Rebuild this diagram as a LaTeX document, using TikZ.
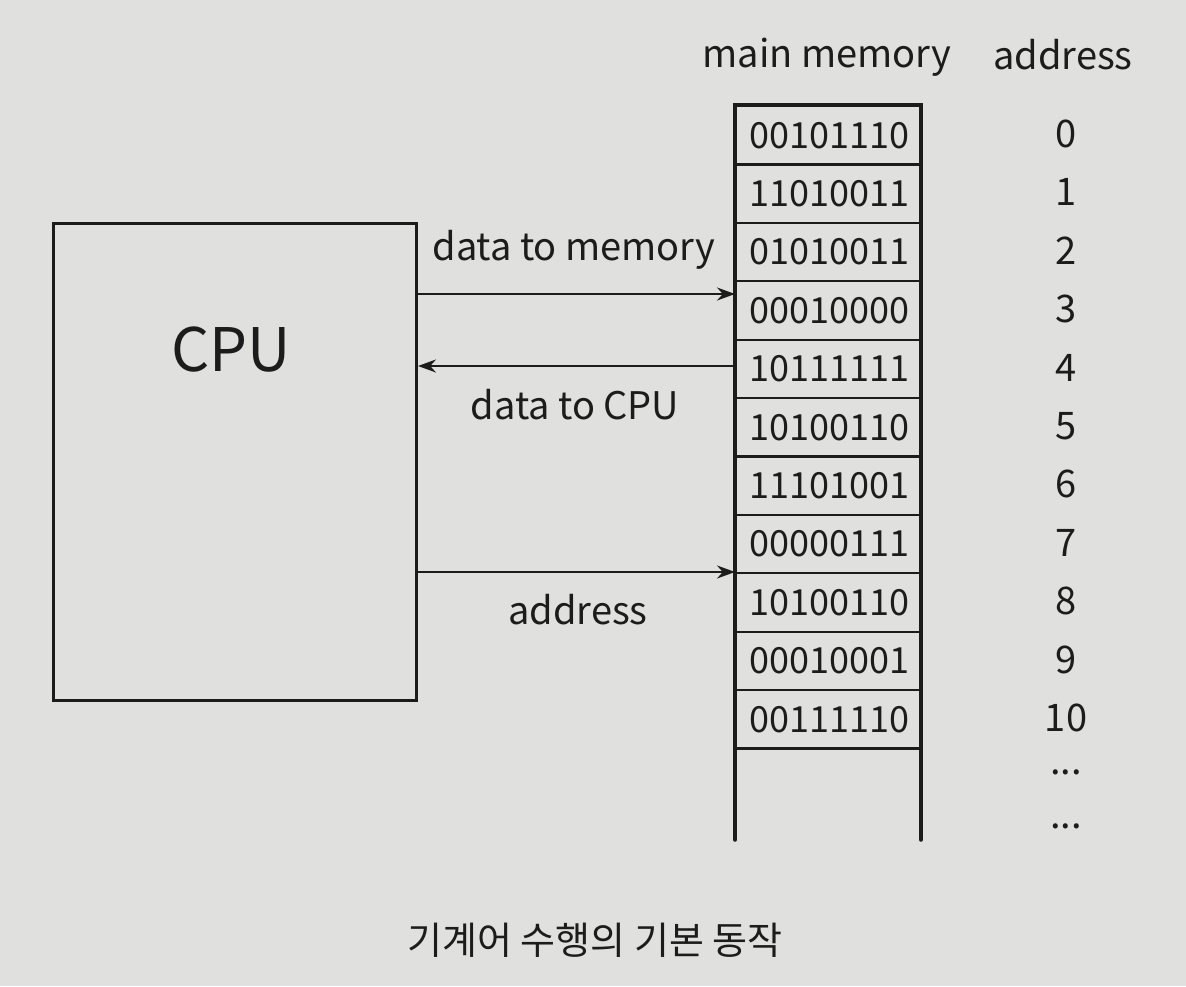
\documentclass[tikz,border=0pt]{standalone}
\usepackage{fontspec}
\setmainfont{Noto Sans CJK KR}
\usetikzlibrary{arrows.meta}
\definecolor{bg}{RGB}{224,224,222}
\definecolor{ink}{RGB}{28,28,28}
\begin{document}
\begin{tikzpicture}[x=1pt,y=-1pt,
  cell/.style={draw=ink, line width=2.2pt, minimum width=186pt, minimum height=58.4pt, inner sep=0pt, anchor=north west, text=ink, font=\fontsize{36}{36}\selectfont},
  lbl/.style={text=ink, font=\fontsize{38}{38}\selectfont},
  num/.style={text=ink, font=\fontsize{38}{38}\selectfont},
  arr/.style={draw=ink, -{Stealth[length=18pt,width=13pt]}, line width=2pt}]
\fill[bg] (0,0) rectangle (1186,986);
\node[draw=ink, line width=3pt, minimum width=363pt, minimum height=477pt, anchor=north west] (cpu) at (52,222) {};
\node[text=ink, font=\fontsize{60}{60}\selectfont] (cpulbl) at (231,350) {CPU};
\foreach \i/\v in {0/00101110,1/11010011,2/01010011,3/00010000,4/10111111,5/10100110,6/11101001,7/00000111,8/10100110,9/00010001,10/00111110}{
  \node[cell] (c\i) at (735,105+58.4*\i) {\v};
  \node[num] (a\i) at (1066,134+58.4*\i) {\i};
}
\coordinate (mtl) at (735,105);
\coordinate (mtr) at (921,105);
\coordinate (mbl) at (735,840);
\coordinate (mbr) at (921,840);
\draw[ink, line width=3.5pt, line cap=round] (mbl) -- (mtl) -- (mtr) -- (mbr);
\node[num] (d1) at (1066,772) {...};
\node[num] (d2) at (1066,826) {...};
\node[lbl] (mm) at (827,57) {main memory};
\node[lbl] (ad) at (1063,55) {address};
\draw[arr] (cpu.east |- 0,294) -- (c3.west |- 0,294);
\draw[arr] (c4.west |- 0,366) -- (cpu.east |- 0,366);
\draw[arr] (cpu.east |- 0,572) -- (c7.west |- 0,572);
\node[lbl] (l1) at (574,250) {data to memory};
\node[lbl] (l2) at (575,405) {data to CPU};
\node[lbl] (l3) at (578,610) {address};
\node[text=ink, font=\fontsize{38}{38}\selectfont] (cap) at (595,940) {기계어 수행의 기본 동작};
\end{tikzpicture}
\end{document}
